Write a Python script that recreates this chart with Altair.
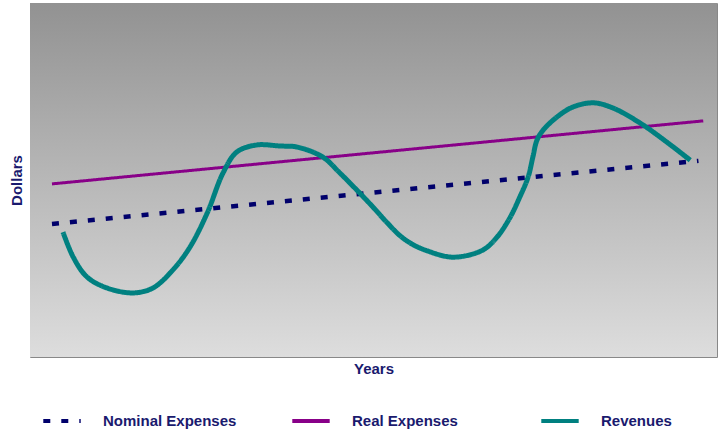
import altair as alt
import pandas as pd

# Data (years index 0-100, dollars index 0-100)
nominal_x = [3.2, 97.3]
nominal_y = [37.6, 55.4]
real_x = [3.2, 98.0]
real_y = [48.9, 66.7]
rev_x = [4.8, 6.3, 8.3, 11.2, 15.0, 17.9, 20.8, 23.3, 25.8, 28.1, 30.1, 33.0,
         36.4, 38.9, 42.6, 45.1, 48.0, 49.9, 52.0, 53.9, 55.7, 57.8, 61.6,
         65.9, 68.0, 69.9, 71.3, 72.5, 73.2, 73.8, 74.7, 76.7, 79.0, 82.0,
         84.9, 88.8, 92.7, 96.1]
rev_y = [35.3, 28.2, 22.6, 19.5, 18.1, 19.5, 24.6, 31.1, 40.7, 52.0, 57.9, 59.9,
         59.6, 59.3, 56.5, 52.0, 46.3, 42.4, 37.9, 34.2, 31.8, 30.0, 28.2,
         30.2, 33.9, 39.5, 45.2, 50.8, 56.5, 61.3, 64.1, 67.8, 70.6, 71.8,
         70.3, 66.1, 60.7, 55.6]
series_names = ["Nominal Expenses", "Real Expenses", "Revenues"]
series_colors = ["#00006b", "#880088", "#008080"]
series_widths = [4.5, 3, 5]

def frame(name, xs, ys):
    return pd.DataFrame({"series": name, "x": xs, "y": ys, "o": list(range(len(xs)))})

frames = [frame(series_names[0], nominal_x, nominal_y),
          frame(series_names[1], real_x, real_y),
          frame(series_names[2], rev_x, rev_y)]

W, H = 687, 354
navy = "#1a1a6e"
font = "Liberation Sans"

bg = alt.Chart(pd.DataFrame({"a": [0]})).mark_rect(
    color=alt.Gradient(
        gradient="linear",
        stops=[alt.GradientStop(color="#929292", offset=0),
               alt.GradientStop(color="#dddddd", offset=1)],
        x1=0, x2=0, y1=0, y2=1,
    )
).encode(x=alt.value(0), x2=alt.value(W), y=alt.value(0), y2=alt.value(H))

legend = alt.Legend(title=None, orient="none", legendX=11, legendY=397,
                    direction="horizontal", columns=3, columnPadding=47,
                    gridAlign="all", symbolType="stroke", symbolSize=1400,
                    symbolStrokeWidth=4,
                    labelFont=font, labelFontSize=15, labelFontWeight="bold",
                    labelColor=navy, labelOffset=20, labelLimit=300)

xenc = alt.X("x:Q", scale=alt.Scale(domain=[0, 100], nice=False),
             axis=alt.Axis(title="Years", labels=False, ticks=False, domain=False,
                           grid=False, titleFont=font, titleFontSize=15,
                           titleFontWeight="bold", titleColor=navy, titlePadding=4))
yenc = alt.Y("y:Q", scale=alt.Scale(domain=[0, 100], nice=False),
             axis=alt.Axis(title="Dollars", labels=False, ticks=False, domain=False,
                           grid=False, titleFont=font, titleFontSize=15,
                           titleFontWeight="bold", titleColor=navy, titlePadding=6))
cenc = alt.Color("series:N", scale=alt.Scale(domain=series_names, range=series_colors),
                 legend=legend)
denc = alt.StrokeDash("series:N",
                      scale=alt.Scale(domain=series_names, range=[[7, 11], [1, 0], [1, 0]]),
                      legend=legend)

layers = [bg]
for f, w in zip(frames, series_widths):
    layers.append(
        alt.Chart(f).mark_line(interpolate="catmull-rom", strokeCap="butt", strokeWidth=w)
        .encode(x=xenc, y=yenc, order="o:Q", color=cenc, strokeDash=denc)
    )

chart = alt.layer(*layers).properties(
    width=W, height=H,
    autosize=alt.AutoSizeParams(type="none"),
    padding={"left": 30, "top": 3, "right": 2, "bottom": 72},
    background="white",
).configure_view(stroke="#888888", strokeWidth=1)

chart.save("out.html", embed_options={"renderer": "svg", "actions": False})
